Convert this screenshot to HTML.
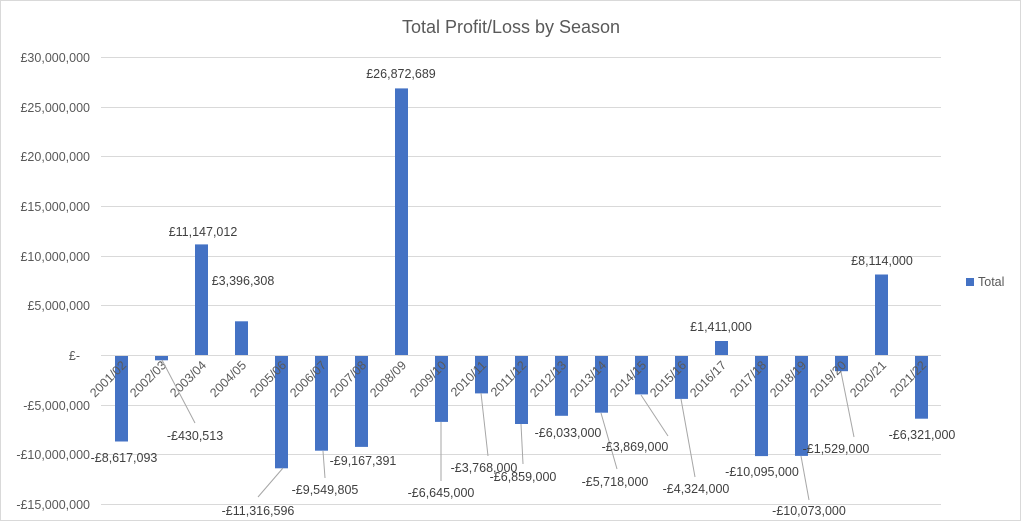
<!DOCTYPE html>
<html><head><meta charset="utf-8"><style>
html,body{margin:0;padding:0;background:#fff;}
svg{display:block;font-family:"Liberation Sans",Calibri,sans-serif;}
</style></head><body>
<svg width="1022" height="522" viewBox="0 0 1022 522">
<rect x="0.5" y="0.5" width="1020" height="520" fill="#fff" stroke="#d9d9d9"/>
<text x="511" y="33" font-size="18" fill="#595959" text-anchor="middle">Total Profit/Loss by Season</text>
<g stroke="#d9d9d9" stroke-width="1">
<line x1="101" x2="941" y1="57.5" y2="57.5"/>
<line x1="101" x2="941" y1="107.5" y2="107.5"/>
<line x1="101" x2="941" y1="156.5" y2="156.5"/>
<line x1="101" x2="941" y1="206.5" y2="206.5"/>
<line x1="101" x2="941" y1="256.5" y2="256.5"/>
<line x1="101" x2="941" y1="305.5" y2="305.5"/>
<line x1="101" x2="941" y1="355.5" y2="355.5"/>
<line x1="101" x2="941" y1="405.5" y2="405.5"/>
<line x1="101" x2="941" y1="454.5" y2="454.5"/>
<line x1="101" x2="941" y1="504.5" y2="504.5"/>
</g>
<g font-size="12.5" fill="#595959" text-anchor="end">
<text x="90" y="62">£30,000,000</text>
<text x="90" y="112">£25,000,000</text>
<text x="90" y="161">£20,000,000</text>
<text x="90" y="211">£15,000,000</text>
<text x="90" y="261">£10,000,000</text>
<text x="90" y="310">£5,000,000</text>
<text x="80" y="360">£-</text>
<text x="90" y="410">-£5,000,000</text>
<text x="90" y="459">-£10,000,000</text>
<text x="90" y="509">-£15,000,000</text>
</g>
<g fill="#4472c4">
<rect x="115" y="356" width="13" height="85.5"/>
<rect x="155" y="356" width="13" height="4.3"/>
<rect x="195" y="244.4" width="13" height="110.6"/>
<rect x="235" y="321.3" width="13" height="33.7"/>
<rect x="275" y="356" width="13" height="112.3"/>
<rect x="315" y="356" width="13" height="94.7"/>
<rect x="355" y="356" width="13" height="90.9"/>
<rect x="395" y="88.4" width="13" height="266.6"/>
<rect x="435" y="356" width="13" height="65.9"/>
<rect x="475" y="356" width="13" height="37.4"/>
<rect x="515" y="356" width="13" height="68"/>
<rect x="555" y="356" width="13" height="59.8"/>
<rect x="595" y="356" width="13" height="56.7"/>
<rect x="635" y="356" width="13" height="38.4"/>
<rect x="675" y="356" width="13" height="42.9"/>
<rect x="715" y="341" width="13" height="14"/>
<rect x="755" y="356" width="13" height="100.1"/>
<rect x="795" y="356" width="13" height="99.9"/>
<rect x="835" y="356" width="13" height="15.2"/>
<rect x="875" y="274.5" width="13" height="80.5"/>
<rect x="915" y="356" width="13" height="62.7"/>
</g>
<g font-size="12.5" fill="#595959" text-anchor="end">
<text transform="translate(127,366) rotate(-45)">2001/02</text>
<text transform="translate(167,366) rotate(-45)">2002/03</text>
<text transform="translate(207,366) rotate(-45)">2003/04</text>
<text transform="translate(247,366) rotate(-45)">2004/05</text>
<text transform="translate(287,366) rotate(-45)">2005/06</text>
<text transform="translate(327,366) rotate(-45)">2006/07</text>
<text transform="translate(367,366) rotate(-45)">2007/08</text>
<text transform="translate(407,366) rotate(-45)">2008/09</text>
<text transform="translate(447,366) rotate(-45)">2009/10</text>
<text transform="translate(487,366) rotate(-45)">2010/11</text>
<text transform="translate(527,366) rotate(-45)">2011/12</text>
<text transform="translate(567,366) rotate(-45)">2012/13</text>
<text transform="translate(607,366) rotate(-45)">2013/14</text>
<text transform="translate(647,366) rotate(-45)">2014/15</text>
<text transform="translate(687,366) rotate(-45)">2015/16</text>
<text transform="translate(727,366) rotate(-45)">2016/17</text>
<text transform="translate(767,366) rotate(-45)">2017/18</text>
<text transform="translate(807,366) rotate(-45)">2018/19</text>
<text transform="translate(847,366) rotate(-45)">2019/20</text>
<text transform="translate(887,366) rotate(-45)">2020/21</text>
<text transform="translate(927,366) rotate(-45)">2021/22</text>
</g>
<g stroke="#a6a6a6" stroke-width="1">
<line x1="162" y1="360" x2="195" y2="423"/>
<line x1="283" y1="468" x2="258" y2="497"/>
<line x1="323" y1="451" x2="325" y2="478"/>
<line x1="441" y1="422" x2="441" y2="481"/>
<line x1="481" y1="393" x2="488" y2="456"/>
<line x1="521" y1="424" x2="523" y2="464"/>
<line x1="601" y1="413" x2="617" y2="469"/>
<line x1="641" y1="395" x2="668" y2="436"/>
<line x1="681" y1="399" x2="695" y2="477"/>
<line x1="801" y1="456" x2="809" y2="500"/>
<line x1="841" y1="372" x2="854" y2="437"/>
</g>
<g font-size="12.5" fill="#404040" text-anchor="middle">
<text x="124" y="462">-£8,617,093</text>
<text x="195" y="440">-£430,513</text>
<text x="203" y="236">£11,147,012</text>
<text x="243" y="285">£3,396,308</text>
<text x="258" y="515">-£11,316,596</text>
<text x="325" y="494">-£9,549,805</text>
<text x="363" y="465">-£9,167,391</text>
<text x="401" y="78">£26,872,689</text>
<text x="441" y="497">-£6,645,000</text>
<text x="484" y="472">-£3,768,000</text>
<text x="523" y="481">-£6,859,000</text>
<text x="568" y="437">-£6,033,000</text>
<text x="615" y="486">-£5,718,000</text>
<text x="635" y="451">-£3,869,000</text>
<text x="696" y="493">-£4,324,000</text>
<text x="721" y="331">£1,411,000</text>
<text x="762" y="476">-£10,095,000</text>
<text x="809" y="515">-£10,073,000</text>
<text x="836" y="453">-£1,529,000</text>
<text x="882" y="265">£8,114,000</text>
<text x="922" y="439">-£6,321,000</text>
</g>
<rect x="966" y="278" width="8" height="8" fill="#4472c4"/>
<text x="978" y="286" font-size="12.5" fill="#595959">Total</text>
</svg>
</body></html>
